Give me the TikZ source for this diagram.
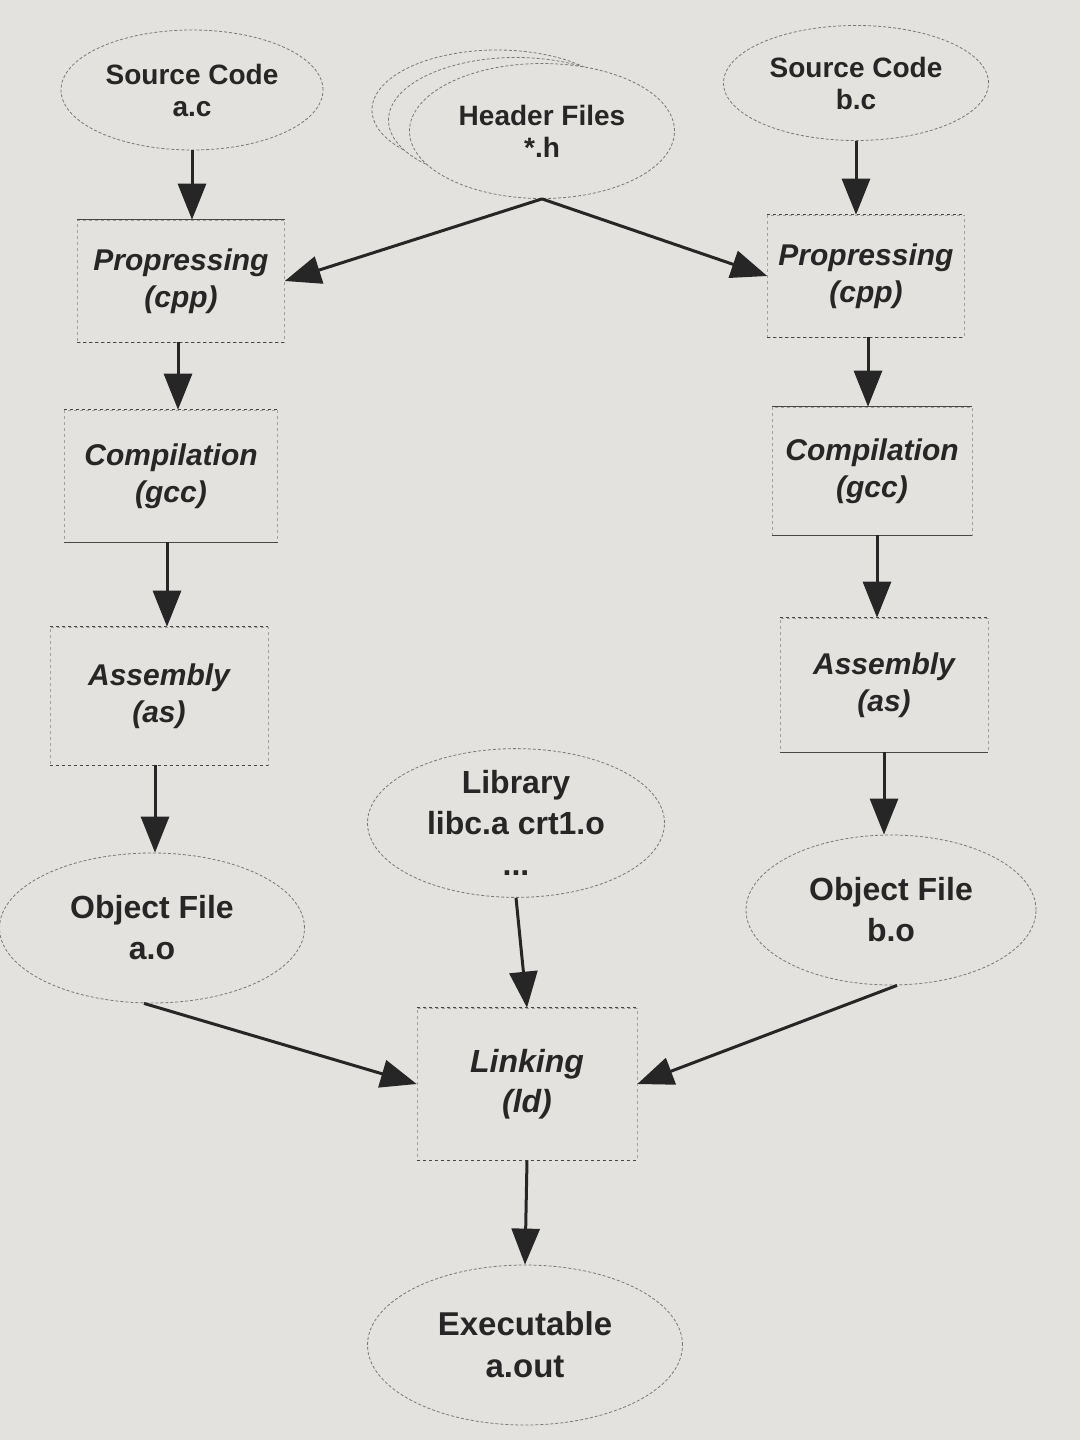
\documentclass[tikz,border=0pt]{standalone}
\usepackage{fontspec}
\setmainfont{Liberation Sans}
\usetikzlibrary{shapes.geometric,arrows.meta}
\definecolor{paper}{RGB}{228,226,222}
\definecolor{ink}{RGB}{38,38,38}
\definecolor{faint}{RGB}{120,120,120}
\begin{document}
\begin{tikzpicture}[x=1pt,y=-1pt,
  every node/.style={text=ink,align=center,inner sep=0pt},
  oval/.style={ellipse,draw=faint,densely dashed,line width=0.8pt,fill=paper},
  procbox/.style={rectangle,draw=faint!70,dashed,line width=0.6pt},
  edge/.style={solid,line width=0.9pt,draw=ink!85},
  flow/.style={draw=ink,line width=3pt,-{Triangle[length=36pt,width=28pt]}},
  small/.style={font=\bfseries\fontsize{28}{32}\selectfont},
  big/.style={font=\bfseries\fontsize{32}{41}\selectfont},
  ital/.style={font=\bfseries\itshape\fontsize{30}{37}\selectfont}]
\fill[paper] (0,0) rectangle (1080,1440);
\useasboundingbox (0,0) rectangle (1080,1440);

% source ovals
\node[oval,small,minimum width=262pt,minimum height=120pt] (srca) at (192,90) {Source Code\\a.c};
\node[oval,small,minimum width=265pt,minimum height=115pt] (srcb) at (856,83) {Source Code\\b.c};

% header files stack
\node[oval,minimum width=250pt,minimum height=120pt] (hb2) at (497,110) {};
\node[oval,minimum width=255pt,minimum height=125pt] (hb1) at (516,120) {};
\node[oval,small,minimum width=265pt,minimum height=135pt] (hdr) at (542,131) {Header Files\\*.h};

% process boxes
\node[procbox,ital,minimum width=207pt,minimum height=122pt] (ppa) at (181,281) {Propressing\\(cpp)};
\node[procbox,ital,minimum width=197pt,minimum height=122pt] (ppb) at (866,276) {Propressing\\(cpp)};
\node[procbox,ital,minimum width=213pt,minimum height=132pt] (cpa) at (171,476) {Compilation\\(gcc)};
\node[procbox,ital,minimum width=200pt,minimum height=128pt] (cpb) at (872,471) {Compilation\\(gcc)};
\node[procbox,ital,minimum width=218pt,minimum height=138pt] (asa) at (159,696) {Assembly\\(as)};
\node[procbox,ital,minimum width=208pt,minimum height=134pt] (asb) at (884,685) {Assembly\\(as)};
\node[procbox,ital,font=\bfseries\itshape\fontsize{32}{40}\selectfont,minimum width=220pt,minimum height=152pt] (lnk) at (527,1084) {Linking\\(ld)};

% top/bottom rules of boxes
\draw[edge] (ppa.north west) -- (ppa.north east);
\draw[edge,dashed] (ppa.south west) -- (ppa.south east);
\draw[edge,dashed] (ppb.north west) -- (ppb.north east);
\draw[edge,dashed] (ppb.south west) -- (ppb.south east);
\draw[edge,dashed] (cpa.north west) -- (cpa.north east);
\draw[edge] (cpa.south west) -- (cpa.south east);
\draw[edge] (cpb.north west) -- (cpb.north east);
\draw[edge] (cpb.south west) -- (cpb.south east);
\draw[edge,dashed] (asa.north west) -- (asa.north east);
\draw[edge,dashed] (asa.south west) -- (asa.south east);
\draw[edge,dashed] (asb.north west) -- (asb.north east);
\draw[edge] (asb.south west) -- (asb.south east);
\draw[edge,dashed] (lnk.north west) -- (lnk.north east);
\draw[edge,dashed] (lnk.south west) -- (lnk.south east);

% other ovals
\node[oval,big,minimum width=305pt,minimum height=150pt] (oba) at (152,928) {Object File\\a.o};
\node[oval,big,minimum width=297pt,minimum height=145pt] (lib) at (516,823) {Library\\libc.a crt1.o\\...};
\node[oval,big,minimum width=290pt,minimum height=150pt] (obb) at (891,910) {Object File\\b.o};
\node[oval,big,font=\bfseries\fontsize{33}{42}\selectfont,minimum width=315pt,minimum height=160pt] (exe) at (525,1345) {Executable\\a.out};

% connectors
\draw[flow] (srca.south) -- (srca.south |- ppa.north);
\draw[flow] (srcb.south) -- (srcb.south |- ppb.north);
\draw[flow] (hdr.south) -- (ppa.east);
\draw[flow] (hdr.south) -- (ppb.west);
\draw[flow] ([xshift=-3pt]ppa.south) -- ([xshift=-3pt]ppa.south |- cpa.north);
\draw[flow] ([xshift=2pt]ppb.south) -- ([xshift=2pt]ppb.south |- cpb.north);
\draw[flow] ([xshift=-4pt]cpa.south) -- ([xshift=-4pt]cpa.south |- asa.north);
\draw[flow] ([xshift=5pt]cpb.south) -- ([xshift=5pt]cpb.south |- asb.north);
\draw[flow] ([xshift=-4pt]asa.south) -- ([xshift=-4pt]asa.south |- oba.north);
\draw[flow] (asb.south) -- (asb.south |- obb.north);
\draw[flow] ([xshift=-8pt]oba.south) -- (lnk.west);
\draw[flow] (lib.south) -- (lnk.north);
\draw[flow] ([xshift=6pt]obb.south) -- (lnk.east);
\draw[flow] (lnk.south) -- (exe.north);
\end{tikzpicture}
\end{document}
